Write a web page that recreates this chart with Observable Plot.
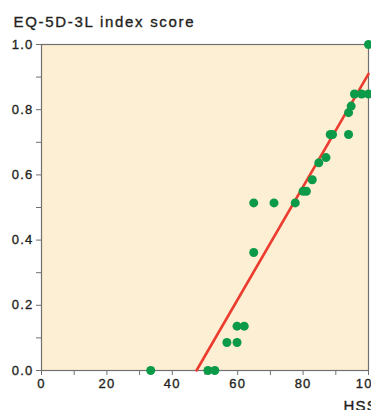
<!DOCTYPE html>
<html><head><meta charset="utf-8">
<script src="https://cdn.jsdelivr.net/npm/d3@7"></script>
<script src="https://cdn.jsdelivr.net/npm/@observablehq/plot@0.6"></script>
<style>
body{margin:0;background:#fff;}
#chart svg{font-family:"Liberation Sans",Arial,sans-serif;}
</style>
</head><body><div id="chart"></div>
<script>
const hss = [33.4, 50.9, 53.0, 56.7, 59.8, 59.8, 62.0, 64.9, 64.9, 71.1, 77.6, 80.0, 81.0, 82.8, 84.8, 87.0, 88.3, 89.0, 93.9, 93.9, 94.7, 95.7, 97.9, 100, 100];
const eq5d = [0, 0, 0, 0.086, 0.086, 0.136, 0.136, 0.362, 0.514, 0.514, 0.514, 0.550, 0.550, 0.585, 0.637, 0.653, 0.724, 0.724, 0.724, 0.791, 0.811, 0.848, 0.848, 0.848, 1.0];
const fitX = [47.4, 100];
const fitY = [0, 0.91];
const xTicks = [0, 10, 20, 30, 40, 50, 60, 70, 80, 90, 100];
const xLabels = [0, 20, 40, 60, 80, 100];
const yTicks = [0, 0.1, 0.2, 0.3, 0.4, 0.5, 0.6, 0.7, 0.8, 0.9, 1.0];
const yLabels = [0, 0.2, 0.4, 0.6, 0.8, 1.0];
const yTitle = "EQ-5D-3L index score";
const xTitle = "HSS";

const points = hss.map((x, i) => ({x, y: eq5d[i]}));
const fit = fitX.map((x, i) => ({x, y: fitY[i]}));
const isLabel = (arr, d) => arr.some(v => Math.abs(v - d) < 1e-9);

const chart = Plot.plot({
  width: 371, height: 410,
  marginLeft: 41, marginRight: 3, marginTop: 44, marginBottom: 40,
  style: {fontFamily: "Liberation Sans, Arial, sans-serif", background: "#fff"},
  x: {domain: [0, 100]},
  y: {domain: [0, 1]},
  marks: [
    Plot.frame({fill: "#fdefd3", stroke: "#707070", strokeWidth: 1.2}),
    Plot.axisY({ticks: yTicks, tickSize: 5, tickPadding: 3, stroke: "#707070", fill: "#231f20",
      fontSize: 13, tickFormat: d => isLabel(yLabels, d) ? d.toFixed(1) : "", label: null}),
    Plot.axisX({ticks: xTicks, tickSize: 5, tickPadding: 3, stroke: "#707070", fill: "#231f20",
      fontSize: 13, tickFormat: d => isLabel(xLabels, d) ? String(d) : "", label: null}),
    Plot.line(fit, {x: "x", y: "y", stroke: "#ec3b2f", strokeWidth: 2.6}),
    Plot.dot(points, {x: "x", y: "y", r: 4.5, fill: "#0b9a48"}),
    Plot.text([yTitle], {frameAnchor: "top-left", dx: -28, dy: -22, textAnchor: "start", lineAnchor: "middle", fontSize: 15, fill: "#231f20", text: d => d}),
    Plot.text([xTitle], {frameAnchor: "bottom-right", dx: -25, dy: 36, textAnchor: "start", lineAnchor: "middle", fontSize: 15, fill: "#231f20", text: d => d})
  ]
});
d3.select(chart).selectAll("text")
  .style("letter-spacing", "1.2px")
  .style("stroke", "#231f20").style("stroke-width", "0.35px");
d3.select(chart).selectAll("text").filter(function(){ return this.textContent === yTitle; })
  .style("letter-spacing", "1.7px");
document.getElementById("chart").append(chart);
</script>
</body></html>
